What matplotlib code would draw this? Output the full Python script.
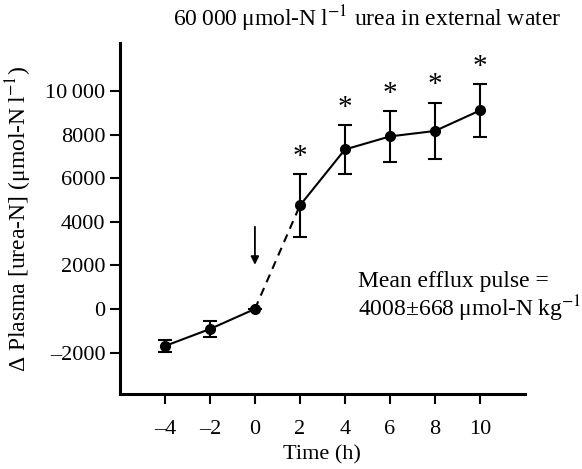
import numpy as np
import matplotlib
matplotlib.use("Agg")
import matplotlib.pyplot as plt

plt.rcParams['font.family'] = ['Liberation Serif', 'DejaVu Serif']
plt.rcParams['mathtext.fontset'] = 'stix'

# data
time_h = [-4, -2, 0, 2, 4, 6, 8, 10]
plasma = [-1700, -920, 0, 4750, 7320, 7920, 8170, 9110]
sem = [280, 380, 0, 1450, 1130, 1170, 1290, 1200]
signif = [False, False, False, True, True, True, True, True]
xticks = [-4, -2, 0, 2, 4, 6, 8, 10]
yticks = [-2000, 0, 2000, 4000, 6000, 8000, 10000]
ytick_labels = ['\u20132000', '0', '2000', '4000', '6000', '8000', '10\u2009000']
xtick_labels = ['\u20134', '\u20132', '0', '2', '4', '6', '8', '10']

fig = plt.figure(figsize=(5.82, 4.69), dpi=100)
ax = fig.add_axes([0.206, 0.160, 0.696, 0.748])

t = np.array(time_h)
p = np.array(plasma)
s = np.array(sem)

# solid before and after exposure, dashed across 0-2 h
ax.plot(t[:3], p[:3], color='black', lw=1.5)
ax.plot(t[2:4], p[2:4], color='black', lw=1.5, ls=(0, (4, 3)))
ax.plot(t[3:], p[3:], color='black', lw=1.5)
ax.errorbar(t, p, yerr=s, fmt='o', color='black', ms=7, capsize=5,
            elinewidth=1.5, capthick=1.5)

for xi, yi, si, sg in zip(t, p, s, signif):
    if sg:
        ax.text(xi, yi + si + 200, '*', ha='center', va='bottom', fontsize=21)

# arrow marking time of exposure
ax.annotate('', xy=(0, 1900), xytext=(0, 3900),
            arrowprops=dict(arrowstyle='-|>', color='black', lw=1.3,
                            mutation_scale=12))

ax.text(4.6, 1000, 'Mean efflux pulse =', fontsize=17, va='baseline')
ax.text(4.6, -350, '4008\u00b1668\u2009\u03bcmol-N\u2009kg$^{-1}$',
        fontsize=17, va='baseline')

ax.set_xlim(-6, 12)
ax.set_ylim(-3900, 12200)
ax.set_xticks(xticks)
ax.set_xticklabels(xtick_labels)
ax.set_yticks(yticks)
ax.set_yticklabels(ytick_labels)
ax.tick_params(labelsize=16, width=1.5, length=7, direction='out')
ax.tick_params(axis='x', pad=12)

for side in ['top', 'right']:
    ax.spines[side].set_visible(False)
for side in ['left', 'bottom']:
    ax.spines[side].set_linewidth(2.2)

ax.set_xlabel('Time (h)', fontsize=16, labelpad=4)
ax.set_ylabel('\u0394 Plasma [urea-N] (\u03bcmol-N\u2009l$^{-1}$)', fontsize=17,
              labelpad=8)
ax.set_title('60\u2009000\u2009\u03bcmol-N\u2009l$^{-1}$ urea in external water',
             fontsize=17, pad=12, x=0.61)

fig.savefig('out.png', dpi=100)
